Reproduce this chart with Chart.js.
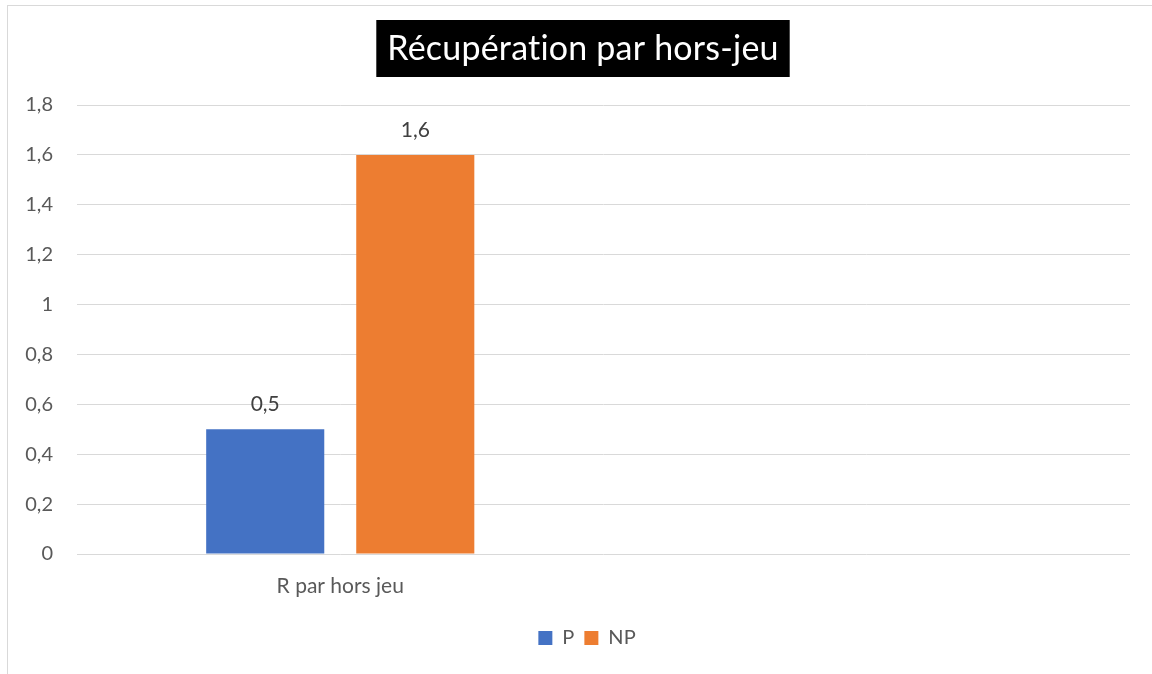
<!DOCTYPE html>
<html>
<head>
<meta charset="utf-8">
<script src="https://cdn.jsdelivr.net/npm/chart.js@4"></script>
<style>
  html, body { margin: 0; padding: 0; background: #fff; }
  #wrap { width: 1152px; height: 674px; position: relative; }
</style>
</head>
<body>
<div id="wrap"><canvas id="chart"></canvas></div>
<script>
// --- données ---
const categories = ['R par hors jeu', ''];
const valeursP = [0.5, null];
const valeursNP = [1.6, null];
const titre = 'Récupération par hors-jeu';

const FONT = "Lato, 'Open Sans', sans-serif";
const COLORS = { blue: '#4472C4', orange: '#ED7D31', grid: '#d9d9d9', tick: '#595959', label: '#404040' };

const fmt = v => String(Math.round(v * 10) / 10).replace('.', ',');

// cadre + bandeau titre noir
const decorPlugin = {
  id: 'decor',
  afterLayout(chart) {
    // légende légèrement décalée vers la droite comme dans Excel
    if (chart.legend) { chart.legend.left += 12; chart.legend.right += 12; }
  },
  beforeDraw(chart) {
    const ctx = chart.ctx;
    ctx.save();
    ctx.strokeStyle = COLORS.grid;
    ctx.lineWidth = 1;
    ctx.strokeRect(7.5, 5.5, 1200, 720);
    ctx.restore();
  },
  afterDraw(chart) {
    const ctx = chart.ctx;
    ctx.save();
    ctx.font = `34px ${FONT}`;
    ctx.letterSpacing = '0.2px';
    const w = ctx.measureText(titre).width;
    const cx = 583;
    ctx.fillStyle = '#000';
    ctx.fillRect(cx - w / 2 - 11, 20, w + 22, 57);
    ctx.fillStyle = '#fff';
    ctx.textAlign = 'center';
    ctx.textBaseline = 'middle';
    ctx.fillText(titre, cx, 49);
    ctx.restore();
  }
};

// étiquettes de valeurs au-dessus des barres
const valuesPlugin = {
  id: 'values',
  afterDatasetsDraw(chart) {
    const ctx = chart.ctx;
    ctx.save();
    ctx.font = `21px ${FONT}`;
    ctx.fillStyle = COLORS.label;
    ctx.textAlign = 'center';
    ctx.textBaseline = 'middle';
    chart.data.datasets.forEach((ds, i) => {
      chart.getDatasetMeta(i).data.forEach((bar, j) => {
        const v = ds.data[j];
        if (v == null) return;
        ctx.fillText(fmt(v), bar.x, bar.y - 25);
      });
    });
    ctx.restore();
  }
};

new Chart(document.getElementById('chart'), {
  type: 'bar',
  data: {
    labels: categories,
    datasets: [
      { label: 'P', data: valeursP, backgroundColor: COLORS.blue },
      { label: 'NP', data: valeursNP, backgroundColor: COLORS.orange }
    ]
  },
  options: {
    responsive: true,
    maintainAspectRatio: false,
    animation: false,
    categoryPercentage: 0.57,
    barPercentage: 0.787,
    layout: { padding: { top: 105, left: 20, right: 22, bottom: 16 } },
    scales: {
      x: {
        grid: { display: false },
        border: { display: false },
        ticks: { color: COLORS.tick, font: { family: FONT, size: 21 }, padding: 12 },
        afterFit(s) { s.height = 64; }
      },
      y: {
        min: 0, max: 1.8,
        grid: { color: COLORS.grid, drawTicks: false },
        border: { display: false },
        ticks: { stepSize: 0.2, color: COLORS.tick, font: { family: FONT, size: 20 }, padding: 24, callback: v => fmt(v) },
        afterFit(s) { s.width = 57; }
      }
    },
    plugins: {
      title: { display: false },
      tooltip: { enabled: false },
      legend: {
        position: 'bottom',
        labels: { boxWidth: 14, boxHeight: 14, color: COLORS.tick, font: { family: FONT, size: 20 }, padding: 10 }
      }
    }
  },
  plugins: [decorPlugin, valuesPlugin]
});
</script>
</body>
</html>
